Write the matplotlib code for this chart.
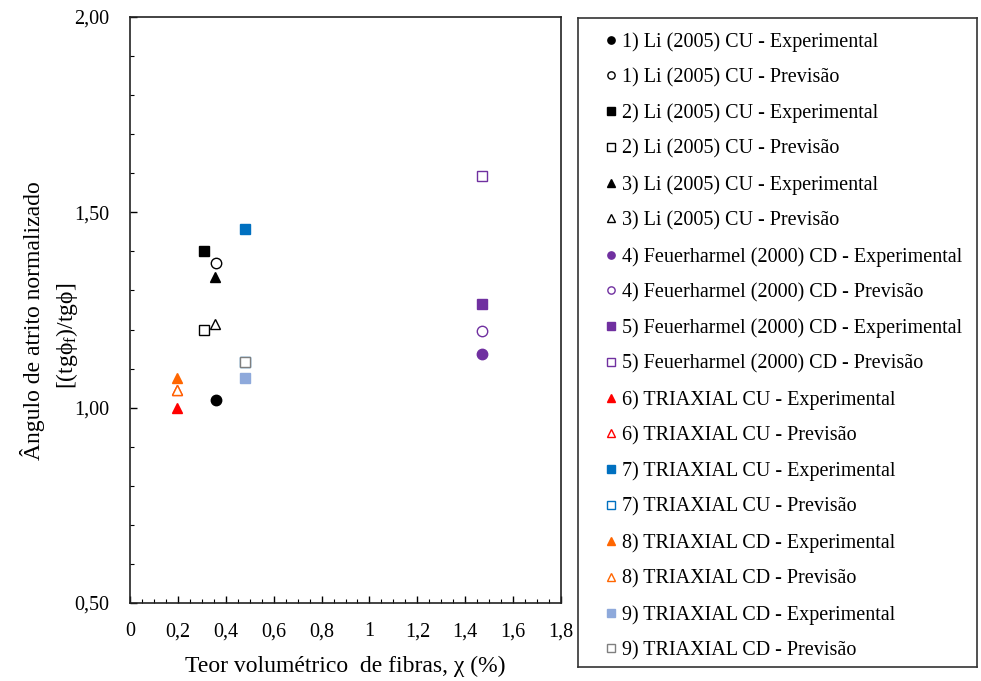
import matplotlib
matplotlib.use('Agg')
import matplotlib.pyplot as plt
from matplotlib.ticker import MultipleLocator, FuncFormatter

plt.rcParams['font.family'] = ['Liberation Serif', 'DejaVu Serif']
plt.rcParams['mathtext.fontset'] = 'custom'
plt.rcParams['mathtext.rm'] = 'Liberation Serif'
plt.rcParams['mathtext.it'] = 'Liberation Serif:italic'

# series: label, x, y, marker, color, filled
labels = [
    '1) Li (2005) CU - Experimental', '1) Li (2005) CU - Previsão',
    '2) Li (2005) CU - Experimental', '2) Li (2005) CU - Previsão',
    '3) Li (2005) CU - Experimental', '3) Li (2005) CU - Previsão',
    '4) Feuerharmel (2000) CD - Experimental', '4) Feuerharmel (2000) CD - Previsão',
    '5) Feuerharmel (2000) CD - Experimental', '5) Feuerharmel (2000) CD - Previsão',
    '6) TRIAXIAL CU - Experimental', '6) TRIAXIAL CU - Previsão',
    '7) TRIAXIAL CU - Experimental', '7) TRIAXIAL CU - Previsão',
    '8) TRIAXIAL CD - Experimental', '8) TRIAXIAL CD - Previsão',
    '9) TRIAXIAL CD - Experimental', '9) TRIAXIAL CD - Previsão',
]
x_vals = [0.36, 0.36, 0.31, 0.31, 0.355, 0.355, 1.47, 1.47, 1.47, 1.47,
          0.195, 0.195, 0.48, 0.48, 0.195, 0.195, 0.48, 0.48]
y_vals = [1.02, 1.37, 1.40, 1.20, 1.335, 1.215, 1.137, 1.197, 1.265, 1.592,
          1.00, 1.045, 1.458, 1.117, 1.076, 1.045, 1.076, 1.117]
markers = ['o', 'o', 's', 's', '^', '^', 'o', 'o', 's', 's',
           '^', '^', 's', 's', '^', '^', 's', 's']
colors = ['black', 'black', 'black', 'black', 'black', 'black',
          '#7030A0', '#7030A0', '#7030A0', '#7030A0',
          '#FF0000', '#FF0000', '#0070C0', '#0070C0',
          '#FF6600', '#FF6600', '#8EA9DB', '#7F7F7F']
filled = [True, False] * 9

fig = plt.figure(figsize=(9.81, 6.81), dpi=100)
ax = fig.add_axes([0.1325, 0.1145, 0.4394, 0.8605])

handles = []
for lab, x, y, m, c, f in zip(labels, x_vals, y_vals, markers, colors, filled):
    h, = ax.plot([x], [y], linestyle='none', marker=m, markersize=7.5,
                 markerfacecolor=c if f else 'white', markeredgecolor=c,
                 markeredgewidth=1.0, label=lab)
    handles.append(h)

ax.set_xlim(0, 1.8)
ax.set_ylim(0.5, 2.0)
ax.xaxis.set_major_locator(MultipleLocator(0.2))
ax.xaxis.set_minor_locator(MultipleLocator(0.05))
ax.yaxis.set_major_locator(MultipleLocator(0.5))
ax.yaxis.set_minor_locator(MultipleLocator(0.1))
ax.xaxis.set_major_formatter(FuncFormatter(lambda v, p: ('%g' % round(v, 2)).replace('.', ',')))
ax.yaxis.set_major_formatter(FuncFormatter(lambda v, p: ('%.2f' % v).replace('.', ',')))
ax.tick_params(which='both', direction='in', top=False, right=False, labelsize=14.5, color='black')
ax.tick_params(which='major', length=5, width=1)
ax.tick_params(which='minor', length=3, width=0.8)
ax.tick_params(axis='x', pad=14)
ax.tick_params(axis='y', pad=15)
for s in ax.spines.values():
    s.set_linewidth(1.2)
    s.set_color('#222222')

ax.set_xlabel('Teor volumétrico  de fibras, χ (%)', fontsize=17, labelpad=10)
# two-line y label placed in figure coordinates
fig.text(0.0336, 0.5286, 'Ângulo de atrito normalizado', rotation=90,
         ha='center', va='center', fontsize=17)
fig.text(0.0683, 0.5066, r'[(tgϕ$_\mathrm{f}$)/tgϕ]', rotation=90,
         ha='center', va='center', fontsize=17)

# legend box
lax = fig.add_axes([0.589, 0.0206, 0.4067, 0.953])
lax.set_xticks([])
lax.set_yticks([])
for s in lax.spines.values():
    s.set_linewidth(1.2)
    s.set_color('#333333')
lax.legend(handles=handles, loc='upper left', bbox_to_anchor=(0.04, 0.997),
           frameon=False, fontsize=14.5, markerscale=0.7, handlelength=0.55,
           handletextpad=0.25, labelspacing=0.81, borderaxespad=0.2)

fig.savefig('out.png', dpi=100)
